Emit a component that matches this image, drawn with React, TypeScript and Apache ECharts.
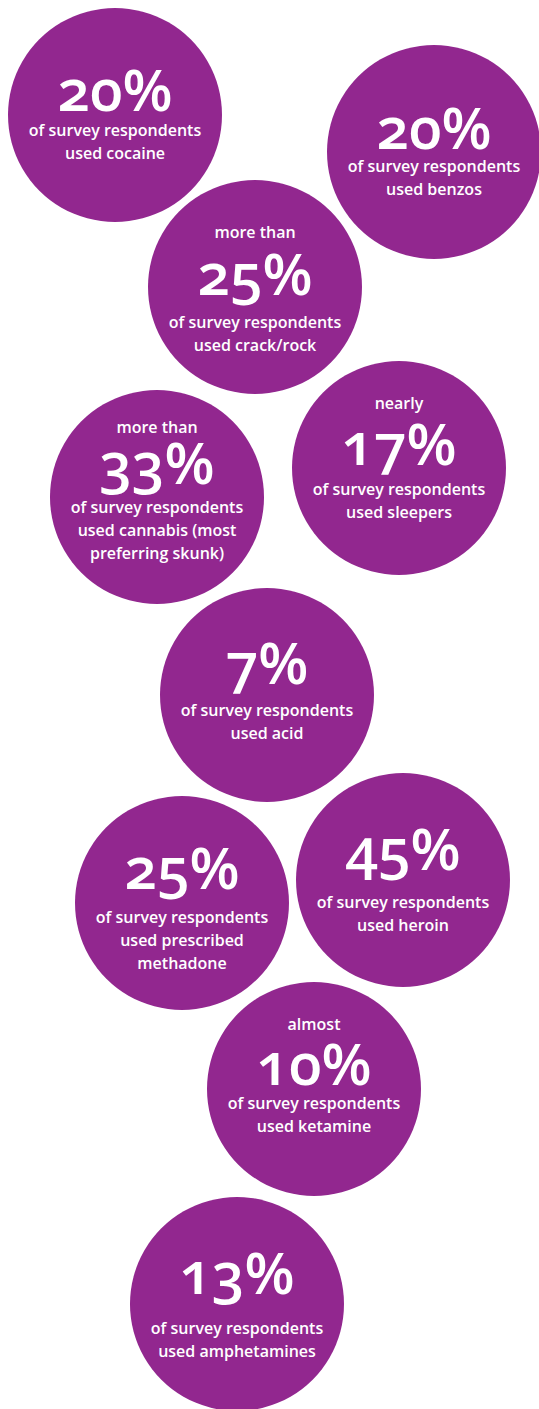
import React, { useEffect, useRef } from "react";
import * as echarts from "echarts";

// ---- data ----
const percentages = [20, 20, 25, 33, 17, 7, 25, 45, 10, 13];
const qualifiers = ["", "", "more than", "more than", "nearly", "", "", "", "almost", ""];
const descriptions = [
  "of survey respondents\nused cocaine",
  "of survey respondents\nused benzos",
  "of survey respondents\nused crack/rock",
  "of survey respondents\nused cannabis (most\npreferring skunk)",
  "of survey respondents\nused sleepers",
  "of survey respondents\nused acid",
  "of survey respondents\nused prescribed\nmethadone",
  "of survey respondents\nused heroin",
  "of survey respondents\nused ketamine",
  "of survey respondents\nused amphetamines",
];

// ---- layout (positions of bubbles, text offsets) ----
const centerX = [115, 434, 255, 157, 399, 267, 182, 403, 314, 237];
const centerY = [115, 152, 287, 497, 468, 695, 903, 880, 1089, 1304];
const qualDy = [0, 0, -55, -70, -65, 0, 0, 0, -65, 0];
const pctDy = [-27, -26, -15, -36, -26, -34, -37, -33, -27, -33];
const bodyDy = [26.5, 25.5, 46.5, 33, 32, 26, 37, 33.5, 25.5, 35.5];

const PURPLE = "#92278F";
const W = 539;
const H = 1409;

export default function App() {
  const ref = useRef<HTMLDivElement>(null);
  useEffect(() => {
    document.body.style.margin = "0";
    const chart = echarts.init(ref.current!, null, { renderer: "svg" });
    const textBase = {
      type: "scatter" as const,
      symbol: "circle",
      symbolSize: 1,
      silent: true,
      itemStyle: { color: "rgba(0,0,0,0)", opacity: 1 },
    };
    chart.setOption({
      animation: false,
      grid: { left: 0, right: 0, top: 0, bottom: 0 },
      xAxis: { type: "value", min: 0, max: W, show: false },
      yAxis: { type: "value", min: 0, max: H, inverse: true, show: false },
      series: [
        {
          type: "scatter",
          silent: true,
          symbol: "circle",
          symbolSize: 214,
          itemStyle: { color: PURPLE, opacity: 1 },
          data: centerX.map((x, i) => [x, centerY[i]]),
        },
        {
          ...textBase,
          data: qualifiers
            .map((q, i) => ({ q, i }))
            .filter((d) => d.q !== "")
            .map(({ q, i }) => ({
              name: q,
              value: [centerX[i], centerY[i]],
              label: { offset: [0, qualDy[i]] },
            })),
          label: {
            show: true,
            position: "inside",
            formatter: "{b}",
            color: "#fff",
            opacity: 1,
            fontFamily: "'Open Sans'",
            fontWeight: 600,
            fontSize: 16,
            lineHeight: 18,
          },
        },
        {
          ...textBase,
          data: percentages.map((p, i) => ({
            name: p + "%",
            value: [centerX[i], centerY[i]],
            label: { offset: [0, pctDy[i]] },
          })),
          label: {
            show: true,
            position: "inside",
            formatter: "{b}",
            color: "#fff",
            opacity: 1,
            fontFamily: "'Open Sans'",
            fontWeight: 600,
            fontSize: 58,
            lineHeight: 40,
          },
        },
        {
          ...textBase,
          data: descriptions.map((d, i) => ({
            name: d,
            value: [centerX[i], centerY[i]],
            label: { offset: [0, bodyDy[i]] },
          })),
          label: {
            show: true,
            position: "inside",
            formatter: "{b}",
            color: "#fff",
            opacity: 1,
            fontFamily: "'Open Sans'",
            fontWeight: 600,
            fontSize: 16,
            lineHeight: 23,
            align: "center",
          },
        },
      ],
    });
    return () => chart.dispose();
  }, []);
  return (
    <div
      ref={ref}
      style={{ width: W, height: H, fontFeatureSettings: '"onum"' }}
    />
  );
}
